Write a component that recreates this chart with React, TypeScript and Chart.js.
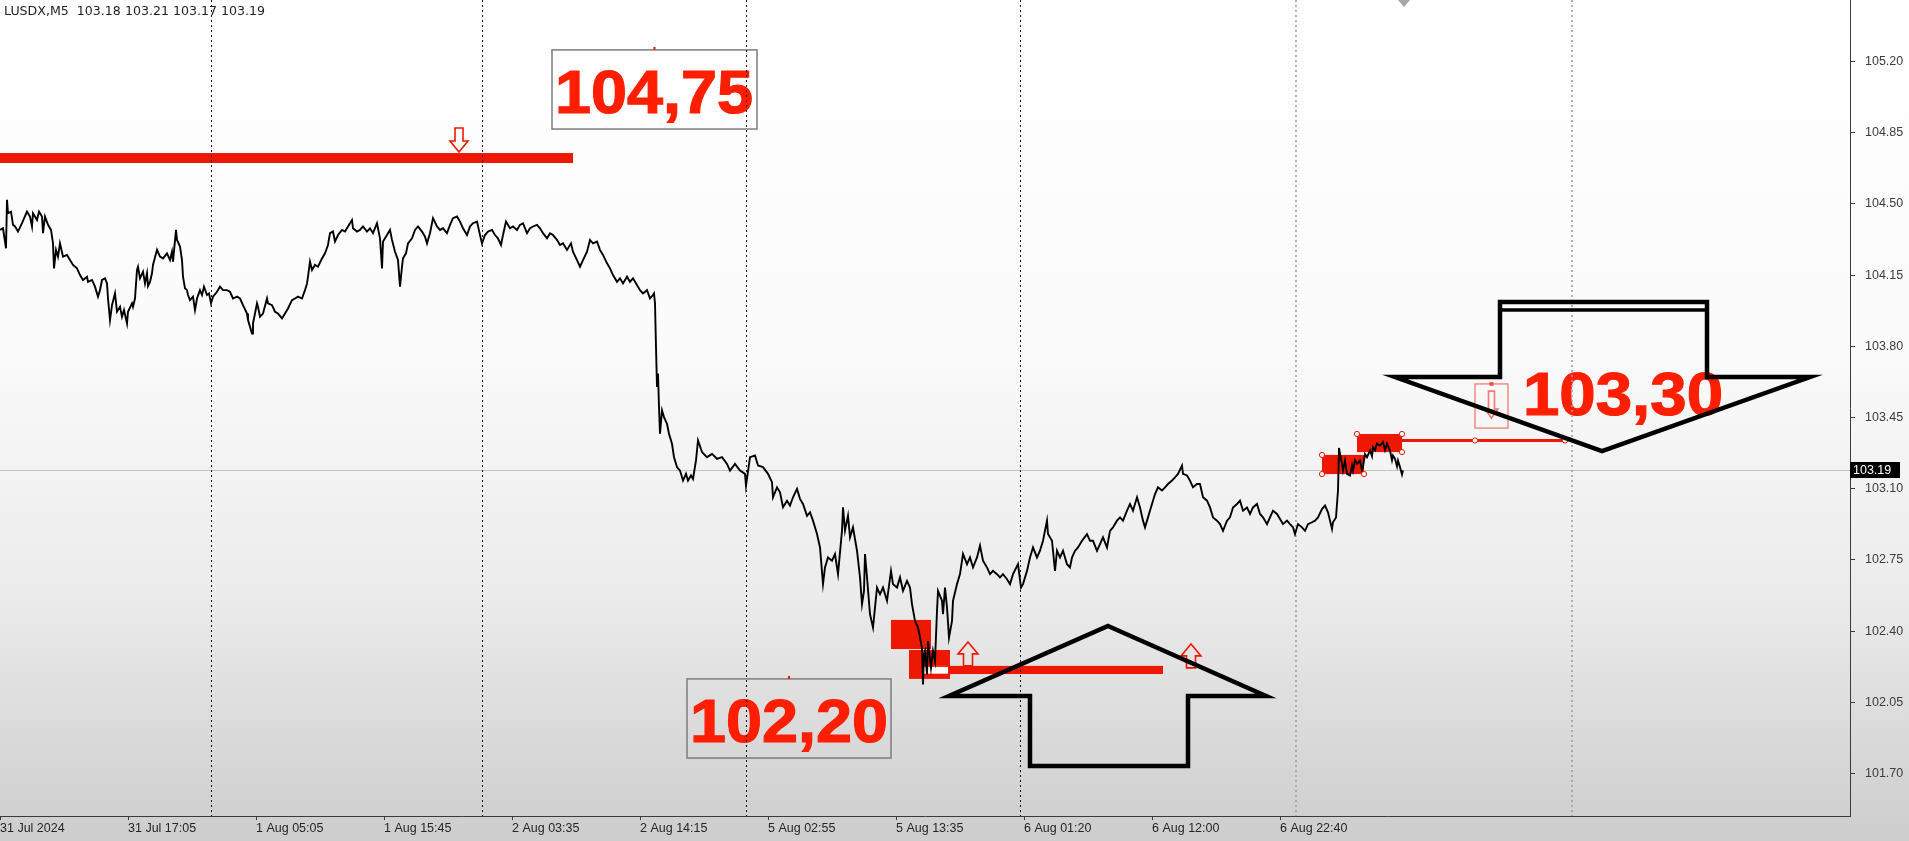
import React, { useEffect, useRef } from 'react';
import { Chart, registerables } from 'chart.js';

Chart.register(...registerables);

// ---------- header / axes ----------
const headerText = 'LUSDX,M5  103.18 103.21 103.17 103.19';
const xTickBars = [0, 128, 256, 384, 512, 640, 768, 896, 1024, 1152, 1280];
const xTickLabels = ['31 Jul 2024', '31 Jul 17:05', '1 Aug 05:05', '1 Aug 15:45', '2 Aug 03:35', '2 Aug 14:15', '5 Aug 02:55', '5 Aug 13:35', '6 Aug 01:20', '6 Aug 12:00', '6 Aug 22:40'];
const yTickValues = [101.7, 102.05, 102.4, 102.75, 103.1, 103.45, 103.8, 104.15, 104.5, 104.85, 105.2];
const daySeparatorsDark = [210.5, 482, 746, 1020];
const daySeparatorsLight = [1296, 1572];
const currentPrice = 103.19;
const shiftMarkerBar = 1404;

// ---------- price series (bar index, close) ----------
const seg31Jul: [number, number][] = [
  [0, 104.372], [3, 104.38], [6, 104.282], [7, 104.52], [8, 104.454], [11, 104.462], [13, 104.397], [15, 104.389], [18, 104.364], [22, 104.405],
  [27, 104.462], [30, 104.438], [32, 104.389], [33, 104.454], [37, 104.421], [39, 104.462], [42, 104.438], [43, 104.356], [45, 104.438], [48, 104.397],
  [51, 104.372], [53, 104.306], [54, 104.183], [56, 104.274], [58, 104.241], [60, 104.306], [63, 104.241], [67, 104.249], [70, 104.224], [73, 104.2],
  [77, 104.183], [80, 104.15], [83, 104.126], [87, 104.142], [88, 104.117], [92, 104.126], [95, 104.093], [98, 104.044], [100, 104.076], [102, 104.126],
  [105, 104.134], [107, 104.109], [108, 104.035], [110, 103.929], [112, 104.002], [115, 104.06], [117, 103.97], [120, 103.994], [122, 103.945], [124, 103.978],
  [127, 103.912], [128, 103.97], [132, 104.011], [133, 103.994], [135, 104.035], [137, 104.175], [138, 104.191], [140, 104.134], [143, 104.167], [145, 104.109],
  [147, 104.159], [148, 104.096], [150, 104.117], [152, 104.159], [153, 104.2], [157, 104.274], [160, 104.241], [163, 104.232], [167, 104.257], [170, 104.224],
  [172, 104.265], [173, 104.216], [176, 104.372], [177, 104.323], [180, 104.29], [182, 104.224], [183, 104.142], [185, 104.085], [187, 104.076], [188, 104.052],
  [190, 104.027], [193, 104.044], [195, 103.978], [197, 104.035], [200, 104.076], [202, 104.052], [204, 104.093], [207, 104.052], [209, 104.06],
];
const seg1Aug: [number, number][] = [
  [211, 104.011], [213, 104.044], [217, 104.068], [220, 104.093], [223, 104.076], [227, 104.076], [230, 104.068], [233, 104.035], [237, 104.044], [240, 104.035],
  [243, 104.002], [247, 103.961], [248, 103.929], [252, 103.863], [253, 103.912], [255, 103.961], [257, 104.011], [258, 103.994], [260, 103.945], [263, 103.961],
  [267, 104.035], [268, 104.011], [272, 104.002], [275, 103.97], [278, 103.961], [282, 103.937], [285, 103.961], [288, 103.986], [292, 104.027], [295, 104.035],
  [298, 104.044], [302, 104.035], [305, 104.076], [307, 104.109], [308, 104.142], [310, 104.216], [312, 104.175], [315, 104.2], [318, 104.191], [322, 104.232],
  [325, 104.257], [328, 104.298], [330, 104.356], [333, 104.364], [335, 104.315], [338, 104.347], [342, 104.372], [345, 104.364], [348, 104.389], [352, 104.421],
  [353, 104.38], [357, 104.364], [360, 104.372], [363, 104.389], [367, 104.364], [370, 104.38], [373, 104.356], [377, 104.405], [380, 104.331], [382, 104.183],
  [383, 104.315], [387, 104.347], [390, 104.372], [392, 104.323], [395, 104.265], [398, 104.224], [400, 104.093], [402, 104.191], [403, 104.232], [406, 104.257],
  [408, 104.306], [412, 104.331], [415, 104.372], [418, 104.389], [422, 104.364], [425, 104.339], [427, 104.306], [430, 104.356], [433, 104.43], [437, 104.389],
  [440, 104.372], [443, 104.38], [447, 104.356], [450, 104.397], [453, 104.43], [457, 104.438], [460, 104.413], [463, 104.38], [467, 104.347], [470, 104.389],
  [473, 104.405], [477, 104.413], [480, 104.347],
];
const seg2Aug: [number, number][] = [
  [482, 104.306], [485, 104.347], [488, 104.364], [492, 104.372], [495, 104.347], [498, 104.331], [501, 104.298], [503, 104.347], [506, 104.413], [510, 104.38],
  [513, 104.389], [517, 104.372], [520, 104.397], [523, 104.405], [527, 104.356], [530, 104.38], [533, 104.389], [537, 104.397], [540, 104.38], [543, 104.356],
  [547, 104.331], [550, 104.356], [553, 104.347], [557, 104.323], [560, 104.298], [563, 104.306], [567, 104.274], [571, 104.306], [573, 104.265], [577, 104.224],
  [580, 104.191], [583, 104.224], [587, 104.265], [590, 104.323], [593, 104.306], [597, 104.315], [600, 104.274], [603, 104.249], [607, 104.208], [610, 104.183],
  [613, 104.15], [617, 104.117], [620, 104.134], [623, 104.109], [627, 104.142], [630, 104.117], [633, 104.134], [637, 104.101], [640, 104.076], [643, 104.06],
  [647, 104.076], [650, 104.035], [653, 104.052], [654, 104.06], [655, 104.011], [656, 103.797], [657, 103.6], [658, 103.666], [659, 103.501], [660, 103.37],
  [662, 103.485], [664, 103.452], [667, 103.419], [669, 103.37], [672, 103.321], [674, 103.255], [677, 103.206], [680, 103.189], [683, 103.14], [686, 103.173],
  [688, 103.14], [691, 103.165], [693, 103.148], [696, 103.239], [698, 103.337], [702, 103.28], [707, 103.255], [712, 103.271], [717, 103.247], [722, 103.255],
  [727, 103.222], [730, 103.189], [735, 103.222], [740, 103.189], [745, 103.173],
];
const seg5Aug: [number, number][] = [
  [746, 103.115], [750, 103.255], [755, 103.263], [758, 103.214], [763, 103.206], [768, 103.173], [772, 103.132], [773, 103.058], [777, 103.107], [780, 103.082],
  [783, 103.009], [787, 103.041], [790, 103.017], [793, 103.058], [797, 103.099], [800, 103.05], [803, 103.025], [807, 102.967], [810, 102.984], [813, 102.943],
  [817, 102.877], [820, 102.811], [823, 102.631], [825, 102.713], [828, 102.762], [832, 102.746], [835, 102.779], [838, 102.68], [840, 102.787], [842, 102.894],
  [843, 103.009], [845, 102.894], [847, 102.943], [848, 102.967], [850, 102.861], [853, 102.91], [857, 102.795], [860, 102.664], [862, 102.532], [864, 102.598],
  [865, 102.779], [867, 102.664], [870, 102.483], [873, 102.417], [875, 102.516], [877, 102.614], [880, 102.581], [883, 102.614], [887, 102.549], [891, 102.696],
  [893, 102.631], [897, 102.614], [900, 102.664], [903, 102.598], [907, 102.647], [910, 102.614], [912, 102.532], [915, 102.45], [918, 102.417], [922, 102.318],
  [923, 102.138], [924, 102.286], [925, 102.302], [927, 102.187], [928, 102.351], [931, 102.22], [933, 102.302], [935, 102.253], [937, 102.499], [938, 102.598],
  [942, 102.549], [943, 102.483], [945, 102.614], [947, 102.516], [949, 102.368], [952, 102.45], [953, 102.549], [957, 102.631], [960, 102.68], [963, 102.779],
  [967, 102.729], [970, 102.762], [973, 102.713], [977, 102.762], [980, 102.82], [983, 102.746], [987, 102.713], [990, 102.68], [993, 102.696], [997, 102.68],
  [1000, 102.664], [1003, 102.68], [1007, 102.655], [1010, 102.631], [1013, 102.68], [1018, 102.729],
];
const seg6Aug: [number, number][] = [
  [1021, 102.614], [1023, 102.631], [1027, 102.696], [1030, 102.762], [1033, 102.811], [1037, 102.762], [1040, 102.795], [1043, 102.844], [1047, 102.943], [1048, 102.877],
  [1052, 102.844], [1055, 102.696], [1057, 102.795], [1060, 102.762], [1063, 102.795], [1067, 102.729], [1070, 102.713], [1072, 102.762], [1075, 102.795], [1078, 102.811],
  [1082, 102.844], [1087, 102.877], [1090, 102.844], [1093, 102.844], [1097, 102.795], [1100, 102.828], [1103, 102.861], [1107, 102.811], [1110, 102.893], [1113, 102.91],
  [1117, 102.943], [1120, 102.959], [1123, 102.943], [1127, 102.992], [1130, 103.025], [1133, 102.992], [1137, 103.058], [1140, 103.008], [1143, 102.943], [1145, 102.91],
  [1148, 102.959], [1152, 103.025], [1155, 103.074], [1158, 103.107], [1162, 103.091], [1165, 103.107], [1168, 103.123], [1172, 103.14], [1175, 103.156], [1178, 103.173],
  [1182, 103.214], [1183, 103.173], [1187, 103.165], [1190, 103.14], [1193, 103.107], [1197, 103.123], [1200, 103.123], [1203, 103.058], [1207, 103.041], [1210, 103.008],
  [1213, 102.959], [1217, 102.943], [1220, 102.926], [1223, 102.893], [1227, 102.943], [1230, 102.959], [1233, 103.008], [1237, 103.025], [1240, 103.041], [1243, 102.992],
  [1247, 103.008], [1250, 102.976], [1253, 103.008], [1257, 103.025], [1260, 102.976], [1263, 102.959], [1267, 102.926], [1270, 102.959], [1273, 102.992], [1277, 102.976],
  [1280, 102.951], [1283, 102.926], [1287, 102.943], [1290, 102.926], [1293, 102.91], [1295, 102.877],
];
const seg7Aug: [number, number][] = [
  [1298, 102.926], [1302, 102.91], [1305, 102.893], [1308, 102.926], [1312, 102.935], [1315, 102.943], [1318, 102.959], [1322, 103.0], [1325, 103.017], [1328, 102.984],
  [1330, 102.943], [1332, 102.902], [1333, 102.935], [1336, 102.959], [1338, 103.091], [1339, 103.3], [1340, 103.271], [1342, 103.222], [1343, 103.189], [1345, 103.238],
  [1347, 103.173], [1350, 103.165], [1352, 103.214], [1353, 103.189], [1355, 103.24], [1357, 103.222], [1360, 103.238], [1362, 103.19], [1363, 103.206], [1365, 103.27],
  [1367, 103.255], [1370, 103.288], [1372, 103.26], [1373, 103.304], [1375, 103.29], [1377, 103.321], [1380, 103.312], [1383, 103.329], [1385, 103.29], [1387, 103.321],
  [1390, 103.288], [1392, 103.24], [1393, 103.263], [1395, 103.247], [1397, 103.21], [1398, 103.238], [1400, 103.206], [1402, 103.17], [1403, 103.19],
];

// ---------- drawn objects (bar index / price) ----------
const resistanceZone = { x0: 0, x1: 573, top: 104.75, bottom: 104.701 };
const supportZone = { x0: 950, x1: 1163, top: 102.229, bottom: 102.189 };
const redBlocks = [
  { x0: 891, x1: 931, top: 102.455, bottom: 102.312 },
  { x0: 909, x1: 950, top: 102.307, bottom: 102.165 },
  { x0: 1322, x1: 1364, top: 103.266, bottom: 103.172 },
  { x0: 1357, x1: 1402, top: 103.369, bottom: 103.28 },
];
const targetLine = { x0: 1402, x1: 1565, price: 103.337 };
const labelBoxes = [
  { text: '104,75', x0: 552, x1: 757, top: 105.257, bottom: 104.868, tx0: 555, tx1: 753, baseline: 104.948 },
  { text: '102,20', x0: 687, x1: 891, top: 102.165, bottom: 101.776, tx0: 690, tx1: 888, baseline: 101.856 },
];
const freeLabel = { text: '103,30', tx0: 1523, tx1: 1723, baseline: 103.462 };
const smallUpArrows = [{ bar: 968, base: 102.229 }, { bar: 1191, base: 102.219 }];
const smallDownArrows = [{ bar: 459, tip: 104.755 }];
const arrowBox = { x0: 1475, x1: 1508, top: 103.615, bottom: 103.398 };
const bigUpArrow = { tipBar: 1108, wingL: 949, wingR: 1266, shaftL: 1030, shaftR: 1188, tip: 102.425, wing: 102.081, bottom: 101.737 };
const bigDownArrow = { tipBar: 1602, wingL: 1395, wingR: 1810, shaftL: 1500, shaftR: 1707, top: 104.018, top2: 103.978, wing: 103.649, tip: 103.285 };

const RED = '#ee1700';
const TEXT_RED = '#ff1f00';

function drawFitText(ctx: CanvasRenderingContext2D, text: string, x0: number, x1: number, baseline: number) {
  ctx.save();
  ctx.font = 'bold 61px "Liberation Sans", Arial, sans-serif';
  const w = ctx.measureText(text).width;
  ctx.translate(x0, baseline);
  ctx.scale((x1 - x0) / w, 1);
  ctx.fillStyle = TEXT_RED;
  ctx.strokeStyle = TEXT_RED;
  ctx.lineWidth = 1.2;
  ctx.textBaseline = 'alphabetic';
  ctx.textAlign = 'left';
  ctx.fillText(text, 0, 0);
  ctx.strokeText(text, 0, 0);
  ctx.restore();
}

function hollowArrow(ctx: CanvasRenderingContext2D, cx: number, tipY: number, dir: number, w: number, h: number, shaftW: number, headH: number) {
  const b = tipY - dir * h;
  const hb = tipY - dir * headH;
  ctx.beginPath();
  ctx.moveTo(cx, tipY);
  ctx.lineTo(cx + w / 2, hb);
  ctx.lineTo(cx + shaftW / 2, hb);
  ctx.lineTo(cx + shaftW / 2, b);
  ctx.lineTo(cx - shaftW / 2, b);
  ctx.lineTo(cx - shaftW / 2, hb);
  ctx.lineTo(cx - w / 2, hb);
  ctx.closePath();
  ctx.stroke();
}

function handle(ctx: CanvasRenderingContext2D, x: number, y: number) {
  ctx.beginPath();
  ctx.arc(x, y, 2.6, 0, Math.PI * 2);
  ctx.fillStyle = '#ffffff';
  ctx.fill();
  ctx.strokeStyle = RED;
  ctx.lineWidth = 1;
  ctx.stroke();
}

const overlayPlugin = {
  id: 'mtOverlay',
  beforeDraw(chart: any) {
    const { ctx, width, height } = chart;
    const g = ctx.createLinearGradient(0, 0, 0, height);
    g.addColorStop(0, '#ffffff');
    g.addColorStop(0.4, '#fbfbfb');
    g.addColorStop(0.7, '#ececec');
    g.addColorStop(1, '#cdcdcd');
    ctx.save();
    ctx.fillStyle = g;
    ctx.fillRect(0, 0, width, height);
    ctx.restore();
  },
  beforeDatasetsDraw(chart: any) {
    const { ctx, chartArea, scales } = chart;
    const xs = scales.x;
    const ys = scales.y;
    const X = (v: number) => xs.getPixelForValue(v);
    const Y = (v: number) => ys.getPixelForValue(v);
    ctx.save();
    ctx.beginPath();
    ctx.rect(chartArea.left, chartArea.top, chartArea.right - chartArea.left, chartArea.bottom - chartArea.top);
    ctx.clip();

    ctx.strokeStyle = '#c4c4c4';
    ctx.lineWidth = 1;
    ctx.beginPath();
    ctx.moveTo(chartArea.left, Math.round(Y(currentPrice)) + 0.5);
    ctx.lineTo(chartArea.right, Math.round(Y(currentPrice)) + 0.5);
    ctx.stroke();

    ctx.fillStyle = RED;
    const zr = (z: any) => ctx.fillRect(X(z.x0), Y(z.top), X(z.x1) - X(z.x0), Y(z.bottom) - Y(z.top));
    zr(resistanceZone);
    zr(supportZone);
    redBlocks.forEach(zr);
    ctx.fillStyle = '#ffffff';
    ctx.fillRect(X(923), Y(102.229), X(948) - X(923), Y(102.19) - Y(102.229));
    ctx.strokeStyle = RED;
    ctx.lineWidth = 1;
    ctx.strokeRect(X(923) + 0.5, Y(102.229) + 0.5, X(948) - X(923), Y(102.19) - Y(102.229));

    ctx.strokeStyle = RED;
    ctx.lineWidth = 3;
    ctx.beginPath();
    ctx.moveTo(X(targetLine.x0), Y(targetLine.price));
    ctx.lineTo(X(targetLine.x1), Y(targetLine.price));
    ctx.stroke();

    ctx.strokeStyle = RED;
    ctx.lineWidth = 1.6;
    ctx.lineJoin = 'miter';
    smallUpArrows.forEach((a) => hollowArrow(ctx, X(a.bar), Y(a.base) - 24, -1, 20, 24, 9, 12));
    smallDownArrows.forEach((a) => hollowArrow(ctx, X(a.bar), Y(a.tip), 1, 18, 24, 8, 11));

    ctx.strokeStyle = 'rgba(238,40,20,0.6)';
    ctx.lineWidth = 1.3;
    ctx.strokeRect(X(arrowBox.x0), Y(arrowBox.top), X(arrowBox.x1) - X(arrowBox.x0), Y(arrowBox.bottom) - Y(arrowBox.top));
    const abx = (X(arrowBox.x0) + X(arrowBox.x1)) / 2;
    ctx.lineWidth = 1.6;
    hollowArrow(ctx, abx, Y(arrowBox.bottom) - 10, 1, 13, 27, 6, 9);
    ctx.fillStyle = 'rgba(238,40,20,0.7)';
    ctx.fillRect(abx - 2, Y(arrowBox.top) - 2, 4, 4);

    labelBoxes.forEach((b) => {
      ctx.strokeStyle = '#7c7c7c';
      ctx.lineWidth = 1.5;
      ctx.strokeRect(X(b.x0), Y(b.top), X(b.x1) - X(b.x0), Y(b.bottom) - Y(b.top));
      ctx.fillStyle = RED;
      ctx.fillRect(X((b.x0 + b.x1) / 2) - 1, Y(b.top) - 3, 2, 3);
      drawFitText(ctx, b.text, X(b.tx0), X(b.tx1), Y(b.baseline));
    });
    drawFitText(ctx, freeLabel.text, X(freeLabel.tx0), X(freeLabel.tx1), Y(freeLabel.baseline));

    ctx.lineWidth = 1;
    ctx.setLineDash([2, 3]);
    ctx.strokeStyle = '#111111';
    daySeparatorsDark.forEach((s) => {
      const x = Math.round(X(s)) + 0.5;
      ctx.beginPath();
      ctx.moveTo(x, chartArea.top);
      ctx.lineTo(x, chartArea.bottom);
      ctx.stroke();
    });
    ctx.strokeStyle = '#a0a0a0';
    ctx.lineWidth = 1.6;
    daySeparatorsLight.forEach((s) => {
      const x = Math.round(X(s));
      ctx.beginPath();
      ctx.moveTo(x, chartArea.top);
      ctx.lineTo(x, chartArea.bottom);
      ctx.stroke();
    });
    ctx.setLineDash([]);
    ctx.restore();
  },
  afterDatasetsDraw(chart: any) {
    const { ctx, chartArea, scales } = chart;
    const xs = scales.x;
    const ys = scales.y;
    const X = (v: number) => xs.getPixelForValue(v);
    const Y = (v: number) => ys.getPixelForValue(v);
    ctx.save();

    handle(ctx, X(1322), Y(103.266));
    handle(ctx, X(1322), Y(103.172));
    handle(ctx, X(1364), Y(103.172));
    handle(ctx, X(1357), Y(103.369));
    handle(ctx, X(1402), Y(103.369));
    handle(ctx, X(1402), Y(103.28));
    handle(ctx, X(1475), Y(targetLine.price));
    handle(ctx, X(targetLine.x1), Y(targetLine.price));

    ctx.strokeStyle = '#000000';
    ctx.lineWidth = 4.5;
    ctx.lineJoin = 'miter';
    const u = bigUpArrow;
    ctx.beginPath();
    ctx.moveTo(X(u.tipBar), Y(u.tip));
    ctx.lineTo(X(u.wingR), Y(u.wing));
    ctx.lineTo(X(u.shaftR), Y(u.wing));
    ctx.lineTo(X(u.shaftR), Y(u.bottom));
    ctx.lineTo(X(u.shaftL), Y(u.bottom));
    ctx.lineTo(X(u.shaftL), Y(u.wing));
    ctx.lineTo(X(u.wingL), Y(u.wing));
    ctx.closePath();
    ctx.stroke();

    const d = bigDownArrow;
    ctx.beginPath();
    ctx.moveTo(X(d.shaftL), Y(d.top));
    ctx.lineTo(X(d.shaftR), Y(d.top));
    ctx.lineTo(X(d.shaftR), Y(d.wing));
    ctx.lineTo(X(d.wingR), Y(d.wing));
    ctx.lineTo(X(d.tipBar), Y(d.tip));
    ctx.lineTo(X(d.wingL), Y(d.wing));
    ctx.lineTo(X(d.shaftL), Y(d.wing));
    ctx.closePath();
    ctx.stroke();
    ctx.lineWidth = 3.5;
    ctx.beginPath();
    ctx.moveTo(X(d.shaftL), Y(d.top2));
    ctx.lineTo(X(d.shaftR), Y(d.top2));
    ctx.stroke();

    const sx = X(shiftMarkerBar);
    ctx.fillStyle = '#a8a8a8';
    ctx.beginPath();
    ctx.moveTo(sx - 6, chartArea.top);
    ctx.lineTo(sx + 6, chartArea.top);
    ctx.lineTo(sx, chartArea.top + 7);
    ctx.closePath();
    ctx.fill();
    ctx.restore();
  },
  afterDraw(chart: any) {
    const { ctx, chartArea, scales } = chart;
    const ys = scales.y;
    ctx.save();
    const py = ys.getPixelForValue(currentPrice);
    ctx.fillStyle = '#000000';
    ctx.fillRect(chartArea.right, Math.round(py) - 8, 50, 16);
    ctx.fillStyle = '#ffffff';
    ctx.font = '12.5px "Liberation Sans", Arial, sans-serif';
    ctx.textBaseline = 'middle';
    ctx.textAlign = 'left';
    ctx.fillText(currentPrice.toFixed(2), chartArea.right + 3, Math.round(py) + 0.5);
    ctx.fillStyle = '#1e1e1e';
    ctx.font = '12.6px "DejaVu Sans", Tahoma, sans-serif';
    ctx.textBaseline = 'top';
    ctx.fillText(headerText, 4, 5);
    ctx.restore();
  },
};

const allPoints = [...seg31Jul, ...seg1Aug, ...seg2Aug, ...seg5Aug, ...seg6Aug, ...seg7Aug].map(([x, y]) => ({ x, y }));

export default function App() {
  const ref = useRef<HTMLCanvasElement>(null);
  useEffect(() => {
    const canvas = ref.current;
    if (!canvas) return;
    const chart = new Chart(canvas, {
      type: 'line',
      data: {
        datasets: [
          {
            data: allPoints,
            borderColor: '#000000',
            borderWidth: 1.9,
            pointRadius: 0,
            tension: 0,
            fill: false,
          },
        ],
      },
      options: {
        animation: false,
        responsive: false,
        devicePixelRatio: 1,
        events: [],
        layout: { padding: 0 },
        plugins: { legend: { display: false }, tooltip: { enabled: false }, title: { display: false } },
        scales: {
          x: {
            type: 'linear',
            position: 'bottom',
            min: 0,
            max: 1850,
            afterFit: (s: any) => {
              s.height = 25;
              s.paddingLeft = 0;
              s.paddingRight = 0;
            },
            afterBuildTicks: (s: any) => {
              s.ticks = xTickBars.map((v) => ({ value: v }));
            },
            ticks: {
              autoSkip: false,
              maxRotation: 0,
              minRotation: 0,
              align: 'start',
              padding: 1,
              color: '#262626',
              font: { family: '"Liberation Sans", Arial, sans-serif', size: 12.5 },
              callback: (_v: any, i: number) => xTickLabels[i],
            },
            grid: { drawOnChartArea: false, drawTicks: true, tickLength: 4, color: '#3a3a3a' },
            border: { display: true, color: '#3a3a3a', width: 1 },
          },
          y: {
            type: 'linear',
            position: 'right',
            min: 101.4911,
            max: 105.5023,
            afterFit: (s: any) => {
              s.width = 59;
              s.paddingTop = 0;
              s.paddingBottom = 0;
            },
            afterBuildTicks: (s: any) => {
              s.ticks = yTickValues.map((v) => ({ value: v }));
            },
            ticks: {
              crossAlign: 'near',
              padding: 10,
              color: '#3c3c3c',
              font: { family: '"Liberation Sans", Arial, sans-serif', size: 12.5 },
              callback: (v: any) => Number(v).toFixed(2),
            },
            grid: { drawOnChartArea: false, drawTicks: true, tickLength: 5, color: '#3a3a3a' },
            border: { display: true, color: '#3a3a3a', width: 1 },
          },
        },
      },
      plugins: [overlayPlugin],
    } as any);
    return () => chart.destroy();
  }, []);
  return (
    <canvas
      ref={ref}
      width={1909}
      height={841}
      style={{ position: 'fixed', left: 0, top: 0, width: 1909, height: 841, display: 'block' }}
    />
  );
}
